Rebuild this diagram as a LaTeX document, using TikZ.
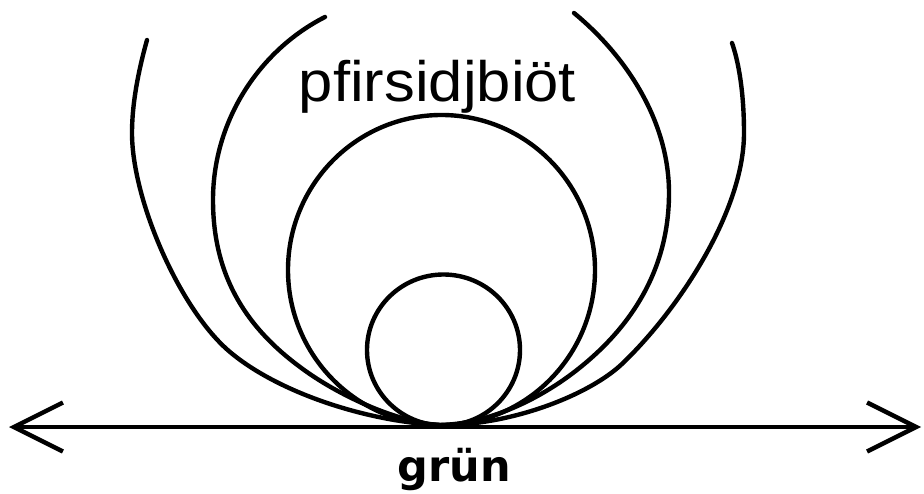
\documentclass[tikz,border=0pt]{standalone}
\usepackage{fontspec}
\setmainfont{Liberation Sans}
\newfontfamily\handfont{DejaVu Sans}
\usetikzlibrary{arrows.meta}
\begin{document}
\begin{tikzpicture}[x=1pt,y=-1pt,
  curve/.style={line width=4.4pt, line cap=round, line join=round},
  barb/.tip={Straight Barb[length=49pt,width=49pt]}]
\useasboundingbox (0,0) rectangle (924,494);
\coordinate (T) at (440,425);
% outer arc
\draw[curve] (147,40) .. controls (140,65) and (132,100) .. (132,133)
  .. controls (132,200) and (180,310) .. (230,352)
  .. controls (280,394) and (370,422) .. (T)
  .. controls (510,426) and (590,395) .. (623,363)
  .. controls (680,308) and (744,210) .. (744,133)
  .. controls (744,90) and (738,60) .. (732,43);
% second arc
\draw[curve] (325,17) .. controls (260,50) and (213,120) .. (213,200)
  .. controls (213,280) and (250,330) .. (300,367)
  .. controls (340,397) and (400,423) .. (T)
  .. controls (490,424) and (540,398) .. (573,373)
  .. controls (640,322) and (669,260) .. (669,193)
  .. controls (669,120) and (625,55) .. (574,13);
% medium circle
\draw[curve] (441.5,270) ellipse [x radius=153.5, y radius=155];
% small circle
\draw[curve] (443.5,350) ellipse [x radius=76.5, y radius=75.5];
% axis
\coordinate (L) at (9,427);
\coordinate (R) at (921,427);
\draw[line width=4.4pt, barb-barb] (L) -- (R);
% labels
\node[anchor=base, inner sep=0pt, font=\fontsize{57}{60}\selectfont] (title) at (437.5,102) {\scalebox{1.08}[1]{pfirsidjbiöt}};
\node[anchor=base, inner sep=0pt, font=\handfont\bfseries\fontsize{43}{45}\selectfont] (lab) at (454,481) {grün};
\end{tikzpicture}
\end{document}
